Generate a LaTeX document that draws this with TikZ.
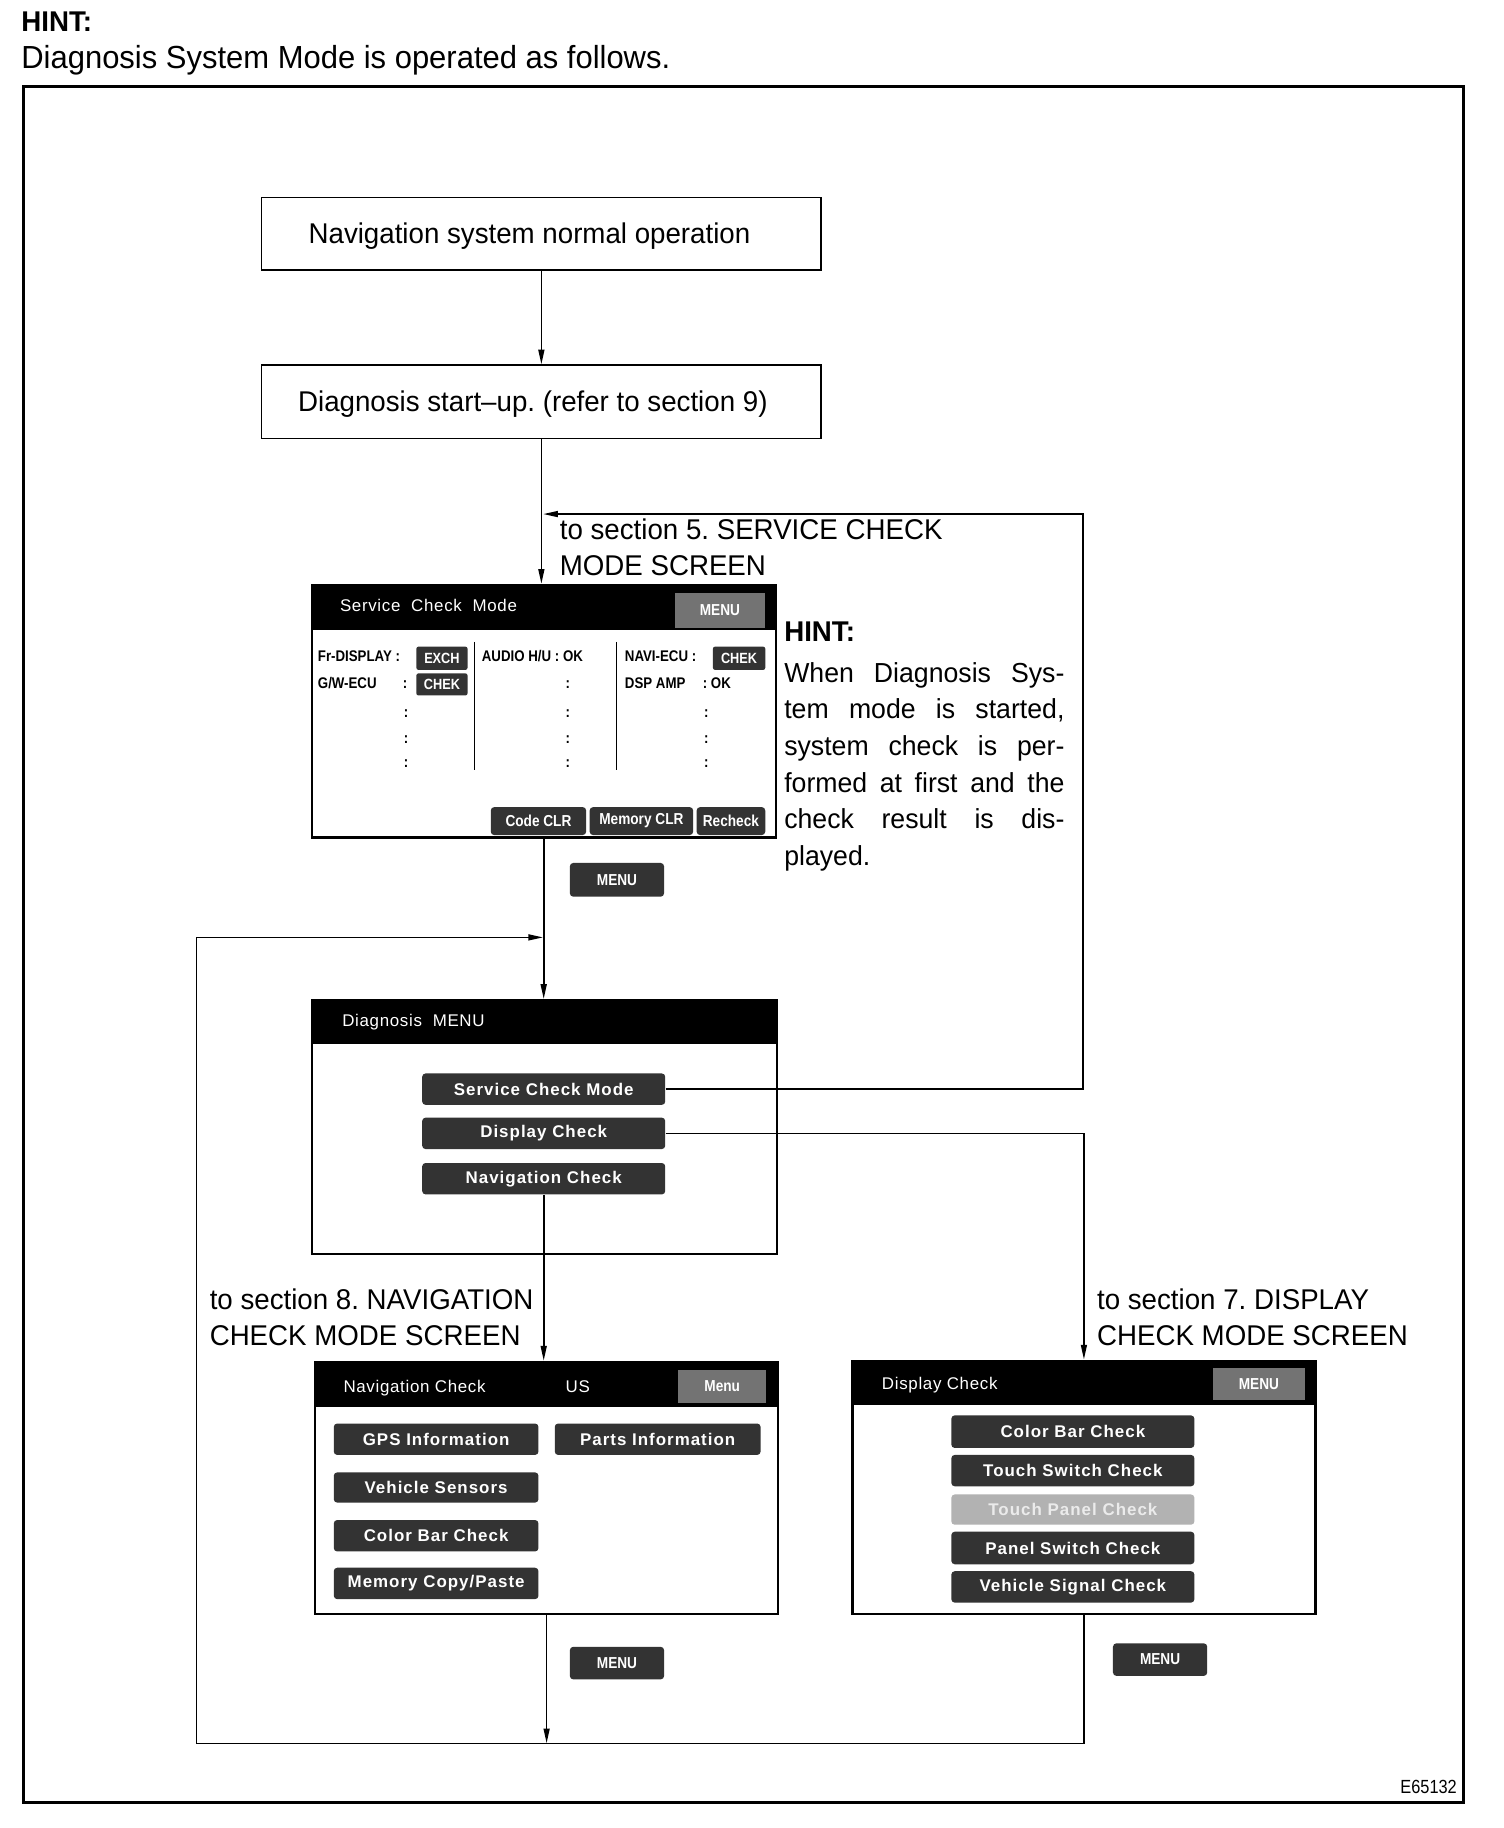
\documentclass[tikz,border=0pt]{standalone}
\usepackage{fontspec}
\setmainfont{Liberation Sans}
\newfontfamily\fcond[FakeStretch=0.97]{Liberation Sans}
\newfontfamily\fscr[FakeStretch=0.86]{Liberation Sans}
\newfontfamily\fbtn[LetterSpace=6]{Liberation Sans}
\newfontfamily\fhdr[LetterSpace=4]{Liberation Sans}
\usetikzlibrary{fit,arrows.meta}
\tikzset{
  bigtxt/.style={font=\fcond\fontsize{13.5pt}{16pt}\selectfont, inner sep=0pt, anchor=base west},
  introtxt/.style={bigtxt, font=\fcond\fontsize{15.1pt}{17pt}\selectfont},
  boldtxt/.style={bigtxt, font=\fcond\bfseries\fontsize{13.5pt}{16pt}\selectfont},
  hinttxt/.style={bigtxt, font=\fcond\fontsize{13pt}{16pt}\selectfont},
  frm/.style={draw, line width=1.4pt, inner sep=0pt},
  flowbox/.style={draw, line width=0.7pt, inner sep=0pt},
  screen/.style={draw, line width=1.1pt, inner sep=0pt},
  hdr/.style={fill=black, inner sep=0pt},
  hdrtxt/.style={font=\fhdr\fontsize{8pt}{9pt}\selectfont, text=white, inner sep=0pt, anchor=base west},
  hbtn/.style={fill=black!55, inner sep=0pt},
  htxt/.style={inner sep=0pt, text=white, font=\fscr\bfseries\fontsize{7.5pt}{8pt}\selectfont},
  btn/.style={fill=black!80, rounded corners=1.6pt, inner sep=0pt},
  lbtn/.style={btn, fill=black!30},
  btxt/.style={inner sep=0pt, text=white, font=\fbtn\bfseries\fontsize{8pt}{9pt}\selectfont},
  ltxt/.style={btxt, text=black!8},
  stxt/.style={inner sep=0pt, text=white, font=\fscr\bfseries\fontsize{7.5pt}{8pt}\selectfont},
  tag/.style={fill=black!80, rounded corners=1pt, inner sep=0pt},
  tagtxt/.style={inner sep=0pt, text=white, font=\fscr\bfseries\fontsize{7pt}{8pt}\selectfont},
  scrtxt/.style={font=\fscr\bfseries\fontsize{7.3pt}{8pt}\selectfont, inner sep=0pt, anchor=base west},
  conn/.style={line width=0.8pt},
  arr/.style={conn, -{Triangle[length=7pt,width=2.8pt]}},
  divl/.style={line width=0.7pt},
}
\begin{document}
\frenchspacing
\begin{tikzpicture}[x=0.55pt,y=-0.55pt]
\useasboundingbox (0,0) rectangle (1293,1571.8);
\fill[white] (0,0) rectangle (1293,1571.8);

% title
\node[boldtxt] (hint) at (18,27) {HINT:};
\node[introtxt] (intro) at (18,59) {Diagnosis System Mode is operated as follows.};
\node[frm, fit={(20,74)(1258,1550)}] (frame) {};
\node[font=\fscr\fontsize{9pt}{10pt}\selectfont, inner sep=0pt, anchor=base east] (code) at (1253,1542) {E65132};

% flow boxes
\node[flowbox, fit={(225,170)(706,232)}] (n1) {};
\node[bigtxt] (n1t) at (265,209) {Navigation system normal operation};
\node[flowbox, fit={(225,314)(706,377)}] (n2) {};
\node[bigtxt] (n2t) at (256,354) {Diagnosis start–up. (refer to section 9)};

% labels
\node[bigtxt] (l5a) at (481,464) {to section 5. SERVICE CHECK};
\node[bigtxt] (l5b) at (481,495) {MODE SCREEN};
\node[bigtxt] (l8a) at (180,1126) {to section 8. NAVIGATION};
\node[bigtxt] (l8b) at (180,1157) {CHECK MODE SCREEN};
\node[bigtxt] (l7a) at (943,1126) {to section 7. DISPLAY};
\node[bigtxt] (l7b) at (943,1157) {CHECK MODE SCREEN};

% Service Check Mode screen
\node[screen, fit={(268,503)(667,720)}] (scm) {};
\node[hdr, fit={(268,503)(667,542)}] (scmh) {};
\node[hdrtxt] (scmt) at (292,526) {Service\ \ Check\ \ Mode};
\node[hbtn, fit={(580,510)(658,540)}, label={[htxt]center:MENU}] (scmm) {};
\node[scrtxt] (frd) at (273,569) {Fr-DISPLAY :};
\node[tag, fit={(358,556)(402,576)}, label={[tagtxt]center:EXCH}] (exch) {};
\node[scrtxt] (gw) at (273,592) {G/W-ECU};
\node[scrtxt] (gwc) at (346,592) {:};
\node[tag, fit={(358,579)(402,598)}, label={[tagtxt]center:CHEK}] (chek1) {};
\node[scrtxt] (aud) at (414,569) {AUDIO H/U : OK};
\node[scrtxt] (audc) at (486,592) {:};
\node[scrtxt] (navi) at (537,569) {NAVI-ECU :};
\node[tag, fit={(613,556)(658,576)}, label={[tagtxt]center:CHEK}] (chek2) {};
\node[scrtxt] (dsp) at (537,592) {DSP AMP};
\node[scrtxt] (dspok) at (604,592) {: OK};
\foreach \y [count=\i] in {617,639,660}{
  \node[scrtxt] (ca\i) at (347,\y) {:};
  \node[scrtxt] (cb\i) at (486,\y) {:};
  \node[scrtxt] (cc\i) at (605,\y) {:};
}
\draw[divl] (408,552) -- (408,662);
\draw[divl] (530,552) -- (530,662);
\node[btn, fit={(422,694)(504,718)}, label={[stxt]center:Code CLR}] (ccl) {};
\node[btn, fit={(507,694)(596,718)}, label={[stxt]center:Memory CLR}] (mcl) {};
\node[btn, fit={(599,694)(658,718)}, label={[stxt]center:Recheck}] (rch) {};

% hint text
\node[boldtxt] (hint2) at (674,552) {HINT:};
\node[hinttxt] (h1) at (674,586.5) {\makebox[132.5pt][s]{When Diagnosis Sys-}};
\node[hinttxt] (h2) at (674,618) {\makebox[132.5pt][s]{tem mode is started,}};
\node[hinttxt] (h3) at (674,649.5) {\makebox[132.5pt][s]{system check is per-}};
\node[hinttxt] (h4) at (674,681) {\makebox[132.5pt][s]{formed at first and the}};
\node[hinttxt] (h5) at (674,712.5) {\makebox[132.5pt][s]{check result is dis-}};
\node[hinttxt] (h6) at (674,744) {played.};

\node[btn, fit={(490,742)(571,771)}, label={[stxt]center:MENU}] (m1) {};

% Diagnosis MENU screen
\node[screen, fit={(268,860)(668,1078)}] (dm) {};
\node[hdr, fit={(268,860)(668,898)}] (dmh) {};
\node[hdrtxt] (dmt) at (294,883) {Diagnosis\ \ MENU};
\node[btn, fit={(363,923)(572,950)}, label={[btxt]center:Service\ Check\ Mode}] (bsc) {};
\node[btn, fit={(363,961)(572,988)}, label={[btxt]center:Display\ Check}] (bdc) {};
\node[btn, fit={(363,1000)(572,1027)}, label={[btxt]center:Navigation\ Check}] (bnc) {};

% Navigation Check screen
\node[screen, fit={(271,1171)(669,1388)}] (nc) {};
\node[hdr, fit={(271,1171)(669,1210)}] (nch) {};
\node[hdrtxt] (nct) at (295,1197) {Navigation Check};
\node[hdrtxt] (ncus) at (486,1197) {US};
\node[hbtn, fit={(583,1178)(659,1206)}, label={[htxt]center:Menu}] (ncm) {};
\node[btn, fit={(287,1224)(463,1251)}, label={[btxt]center:GPS Information}] (gps) {};
\node[btn, fit={(477,1224)(654,1251)}, label={[btxt]center:Parts Information}] (parts) {};
\node[btn, fit={(287,1266)(463,1292)}, label={[btxt]center:Vehicle Sensors}] (vs) {};
\node[btn, fit={(287,1307)(463,1334)}, label={[btxt]center:Color Bar Check}] (cb1) {};
\node[btn, fit={(287,1348)(463,1375)}, label={[btxt]center:Memory Copy/Paste}] (mcp) {};

% Display Check screen
\node[screen, fit={(733,1170)(1131,1388)}] (dc) {};
\node[hdr, fit={(733,1170)(1131,1208)}] (dch) {};
\node[hdrtxt] (dct) at (758,1195) {Display Check};
\node[hbtn, fit={(1043,1176)(1122,1204)}, label={[htxt]center:MENU}] (dcm) {};
\node[btn, fit={(818,1217)(1027,1245)}, label={[btxt]center:Color\ Bar\ Check}] (cb2) {};
\node[btn, fit={(818,1251)(1027,1278)}, label={[btxt]center:Touch\ Switch\ Check}] (tsc) {};
\node[lbtn, fit={(818,1285)(1027,1311)}, label={[ltxt]center:Touch\ Panel\ Check}] (tpc) {};
\node[btn, fit={(818,1317)(1027,1345)}, label={[btxt]center:Panel\ Switch\ Check}] (psc) {};
\node[btn, fit={(818,1351)(1027,1378)}, label={[btxt]center:Vehicle\ Signal\ Check}] (vsc) {};

\node[btn, fit={(490,1416)(571,1444)}, label={[stxt]center:MENU}] (m2) {};
\node[btn, fit={(957,1413)(1038,1441)}, label={[stxt]center:MENU}] (m3) {};

% junctions
\coordinate (j1) at (467,442);
\coordinate (rx) at (931,442);
\coordinate (j2) at (467,806);
\coordinate (lb) at (169,1499);

% connectors
\draw[arr] (n1) -- (n2);
\draw[arr] (n2.south) -- (n2.south |- scm.north);
\draw[arr] (bsc.east) -| (rx) -- (j1);
\draw[arr] (scm.south) -- (scm.south |- dm.north);
\draw[arr] (bdc.east) -| (dc.north);
\draw[arr] (bnc.south) -- (bnc.south |- nc.north);
\draw[arr] (nc.south) -- (nc.south |- lb);
\draw[arr] (dc.south) -- (dc.south |- lb) -- (lb) |- (j2);
\end{tikzpicture}
\end{document}
